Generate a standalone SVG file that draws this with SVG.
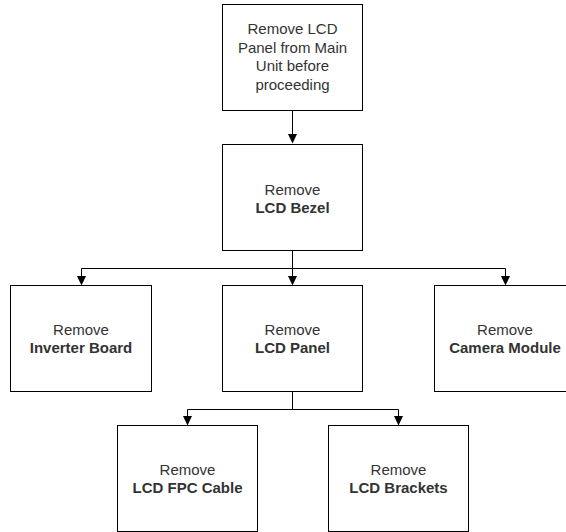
<svg xmlns="http://www.w3.org/2000/svg" width="566" height="532" viewBox="0 0 566 532">
<defs>
<style>
rect{fill:#fff;stroke:#000;stroke-width:1}
text{font-family:"Liberation Sans",Arial,sans-serif;font-size:15px;fill:#333;text-anchor:middle}
.b{font-weight:bold}
.c{fill:none;stroke:#000;stroke-width:1}
</style>
</defs>
<rect x="0" y="0" width="566" height="532" style="fill:#fff;stroke:none"/>
<g id="connectors">
<path class="c" d="M292.5,110.5 V134"/>
<path d="M288,134 L297,134 L292.5,143.5 Z"/>
<path class="c" d="M292.5,250.5 V268.5 M81.5,268.5 H505.5 M81.5,268.5 V276 M292.5,268.5 V276 M505.5,268.5 V276"/>
<path d="M77,276 L86,276 L81.5,285.5 Z M288,276 L297,276 L292.5,285.5 Z M501,276 L510,276 L505.5,285.5 Z"/>
<path class="c" d="M292.5,391.5 V409.5 M187.5,409.5 H398.5 M187.5,409.5 V416 M398.5,409.5 V416"/>
<path d="M183,416 L192,416 L187.5,425.5 Z M394,416 L403,416 L398.5,425.5 Z"/>
</g>
<g id="n1">
<rect x="222.5" y="4.5" width="140" height="106"/>
<text x="292.5" y="34">Remove LCD</text>
<text x="292.5" y="52.5">Panel from Main</text>
<text x="292.5" y="71">Unit before</text>
<text x="292.5" y="89.5">proceeding</text>
</g>
<g id="n2">
<rect x="222.5" y="144.5" width="140" height="106"/>
<text x="292.5" y="195">Remove</text>
<text x="292.5" y="213" class="b">LCD Bezel</text>
</g>
<g id="n3">
<rect x="10.5" y="285.5" width="141" height="106"/>
<text x="81" y="335">Remove</text>
<text x="81" y="353" class="b">Inverter Board</text>
</g>
<g id="n4">
<rect x="222.5" y="285.5" width="140" height="106"/>
<text x="292.5" y="335">Remove</text>
<text x="292.5" y="353" class="b">LCD Panel</text>
</g>
<g id="n5">
<rect x="434.5" y="285.5" width="141" height="106"/>
<text x="505" y="335">Remove</text>
<text x="505" y="353" class="b">Camera Module</text>
</g>
<g id="n6">
<rect x="117.5" y="425.5" width="140" height="106"/>
<text x="187.5" y="475">Remove</text>
<text x="187.5" y="493" class="b">LCD FPC Cable</text>
</g>
<g id="n7">
<rect x="328.5" y="425.5" width="140" height="106"/>
<text x="398.5" y="475">Remove</text>
<text x="398.5" y="493" class="b">LCD Brackets</text>
</g>
</svg>
